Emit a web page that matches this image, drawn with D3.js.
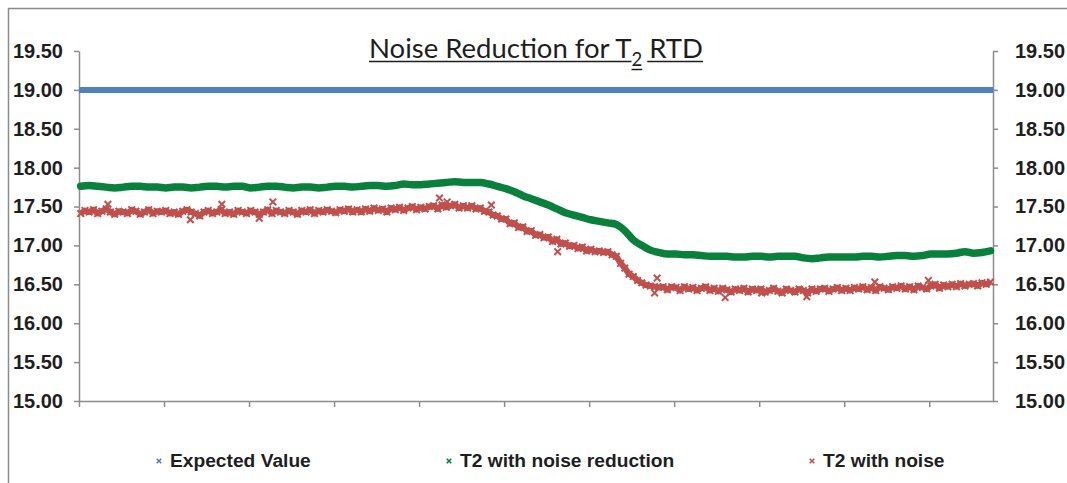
<!DOCTYPE html>
<html>
<head>
<meta charset="utf-8">
<script src="https://cdn.jsdelivr.net/npm/d3@7"></script>
<style>
    body { margin: 0; background: #fff; }
    svg text { font-family: "Liberation Sans", Arial, sans-serif; }
</style>
</head>
<body>
<div id="chart"></div>
<script>
// ---- data ----
const nCategories = 1075;
const yTicks = [15.0, 15.5, 16.0, 16.5, 17.0, 17.5, 18.0, 18.5, 19.0, 19.5];
const xTickIdx = [0, 100, 200, 300, 400, 500, 600, 700, 800, 900, 1000];

const expectedIdx = [0, 1075];
const expectedVals = [19.00, 19.00];

// T2 with noise reduction, one value every 10 samples
const greenStep = 10;
const greenVals = [
    17.76, 17.77, 17.76, 17.75, 17.74, 17.75, 17.76, 17.76, 17.75, 17.75,
    17.74, 17.75, 17.75, 17.74, 17.75, 17.76, 17.76, 17.75, 17.76, 17.76,
    17.74, 17.75, 17.76, 17.76, 17.75, 17.74, 17.75, 17.75, 17.74, 17.75,
    17.76, 17.76, 17.75, 17.76, 17.77, 17.77, 17.76, 17.77, 17.79, 17.78,
    17.78, 17.79, 17.80, 17.81, 17.82, 17.81, 17.81, 17.81, 17.79, 17.76,
    17.73, 17.69, 17.64, 17.60, 17.56, 17.52, 17.47, 17.42, 17.39, 17.36,
    17.33, 17.31, 17.29, 17.27, 17.19, 17.07, 17.00, 16.94, 16.91, 16.89,
    16.89, 16.88, 16.88, 16.87, 16.86, 16.86, 16.86, 16.85, 16.85, 16.86,
    16.86, 16.85, 16.86, 16.86, 16.86, 16.84, 16.83, 16.84, 16.85, 16.85,
    16.85, 16.85, 16.86, 16.86, 16.85, 16.86, 16.87, 16.87, 16.86, 16.87,
    16.89, 16.89, 16.89, 16.90, 16.92, 16.90, 16.91, 16.93
];

// T2 with noise, one value every 5 samples
const redStep = 5;
const redVals = [
    17.41, 17.45, 17.43, 17.46, 17.41, 17.44, 17.47, 17.43, 17.40, 17.44,
    17.43, 17.41, 17.46, 17.44, 17.40, 17.43, 17.46, 17.41, 17.44, 17.43,
    17.45, 17.41, 17.43, 17.40, 17.44, 17.46, 17.43, 17.41, 17.38, 17.43,
    17.45, 17.41, 17.43, 17.46, 17.41, 17.43, 17.40, 17.45, 17.43, 17.41,
    17.45, 17.43, 17.40, 17.43, 17.46, 17.41, 17.45, 17.43, 17.41, 17.45,
    17.43, 17.40, 17.45, 17.43, 17.46, 17.41, 17.45, 17.43, 17.46, 17.44,
    17.42, 17.46, 17.44, 17.47, 17.43, 17.46, 17.43, 17.47, 17.44, 17.48,
    17.45, 17.47, 17.43, 17.48, 17.46, 17.49, 17.45, 17.48, 17.50, 17.46,
    17.49, 17.47, 17.50, 17.51, 17.47, 17.52, 17.49, 17.51, 17.53, 17.48,
    17.51, 17.48, 17.51, 17.47, 17.48, 17.44, 17.43, 17.39, 17.38, 17.34,
    17.34, 17.28, 17.29, 17.23, 17.24, 17.18, 17.19, 17.13, 17.14, 17.10,
    17.11, 17.05, 17.08, 17.02, 17.03, 16.99, 17.00, 16.96, 16.98, 16.93,
    16.95, 16.92, 16.93, 16.91, 16.92, 16.88, 16.86, 16.77, 16.71, 16.63,
    16.60, 16.55, 16.52, 16.49, 16.48, 16.47, 16.46, 16.47, 16.43, 16.47,
    16.46, 16.42, 16.47, 16.44, 16.46, 16.42, 16.45, 16.47, 16.42, 16.45,
    16.41, 16.45, 16.43, 16.40, 16.44, 16.42, 16.45, 16.40, 16.44, 16.42,
    16.44, 16.40, 16.42, 16.45, 16.41, 16.39, 16.44, 16.42, 16.40, 16.44,
    16.42, 16.39, 16.44, 16.41, 16.44, 16.45, 16.41, 16.44, 16.46, 16.42,
    16.45, 16.42, 16.46, 16.44, 16.47, 16.43, 16.46, 16.42, 16.47, 16.45,
    16.43, 16.47, 16.45, 16.48, 16.44, 16.47, 16.43, 16.48, 16.46, 16.44,
    16.48, 16.50, 16.45, 16.49, 16.47, 16.50, 16.47, 16.51, 16.48, 16.50,
    16.51, 16.48, 16.52, 16.50, 16.53
];

// the odd noisy samples that stand out of the red band
const redOutlierIdx = [34, 131, 168, 212, 228, 424, 433, 485, 563, 680, 677, 760, 803, 856, 936, 999];
const redOutlierVals = [17.53, 17.33, 17.53, 17.35, 17.56, 17.61, 17.56, 17.52, 16.92, 16.58, 16.39, 16.33, 16.39, 16.34, 16.53, 16.55];

const seriesNames = ['Expected Value', 'T2 with noise reduction', 'T2 with noise'];
const seriesColors = ['#4f81bd', '#0a803d', '#c0504d'];

// ---- layout ----
const width = 1067, height = 483;
const plot = { left: 79, right: 993, top: 51, bottom: 401 };

const svg = d3.select('#chart').append('svg')
    .attr('width', width)
    .attr('height', height);

// chart area border
svg.append('rect')
    .attr('x', 8.5).attr('y', 8.5)
    .attr('width', 1200).attr('height', 600)
    .attr('fill', 'none')
    .attr('stroke', '#8c8c8c')
    .attr('stroke-width', 1.5);

const xScale = d3.scaleLinear()
    .domain([0, nCategories])
    .range([plot.left, plot.right]);

const yScale = d3.scaleLinear()
    .domain([15, 19.5])
    .range([plot.bottom, plot.top]);

const fmt = d3.format('.2f');

// axes
const yAxisL = d3.axisLeft(yScale).tickValues(yTicks).tickFormat(fmt)
    .tickSize(5).tickSizeOuter(0).tickPadding(11);
const yAxisR = d3.axisRight(yScale).tickValues(yTicks).tickFormat(fmt)
    .tickSize(5).tickSizeOuter(0).tickPadding(17);
const xAxis = d3.axisBottom(xScale).tickValues(xTickIdx).tickFormat('')
    .tickSize(6).tickSizeOuter(0);

const gL = svg.append('g').attr('transform', `translate(${plot.left},0)`).call(yAxisL);
const gR = svg.append('g').attr('transform', `translate(${plot.right},0)`).call(yAxisR);
const gX = svg.append('g').attr('transform', `translate(0,${plot.bottom})`).call(xAxis);

[gL, gR, gX].forEach(g => {
    g.selectAll('path, line').attr('stroke', '#8c8c8c').attr('stroke-width', 1.5);
    g.selectAll('text')
        .attr('font-size', 20)
        .attr('font-weight', 'bold')
        .attr('fill', '#1e1e1e');
});

// series
const chart = svg.append('g');

const line = d3.line()
    .x(d => xScale(d.i))
    .y(d => yScale(d.v));

const expectedData = expectedIdx.map((i, k) => ({ i: i, v: expectedVals[k] }));
const greenData = greenVals.map((v, k) => ({ i: k * greenStep + 2, v: v }));
const redData = redVals.map((v, k) => ({ i: k * redStep + 2, v: v }));
const outlierData = redOutlierIdx.map((i, k) => ({ i: i, v: redOutlierVals[k] }));

chart.append('path')
    .datum(expectedData)
    .attr('d', line)
    .attr('fill', 'none')
    .attr('stroke', seriesColors[0])
    .attr('stroke-width', 6);

chart.append('path')
    .datum(greenData)
    .attr('d', line.curve(d3.curveMonotoneX))
    .attr('fill', 'none')
    .attr('stroke', seriesColors[1])
    .attr('stroke-width', 7.5)
    .attr('stroke-linecap', 'round')
    .attr('stroke-linejoin', 'round');

line.curve(d3.curveLinear);
chart.append('path')
    .datum(redData)
    .attr('d', line)
    .attr('fill', 'none')
    .attr('stroke', seriesColors[2])
    .attr('stroke-width', 6)
    .attr('stroke-linejoin', 'round');

const cross = s => `M${-s},${-s}L${s},${s}M${-s},${s}L${s},${-s}`;

chart.selectAll('.red-mark')
    .data(redData.concat(outlierData))
    .join('path')
    .attr('class', 'red-mark')
    .attr('transform', d => `translate(${xScale(d.i)},${yScale(d.v)})`)
    .attr('d', cross(3.3))
    .attr('stroke', seriesColors[2])
    .attr('stroke-width', 2);

// title, with subscript and underline
const title = svg.append('g');
const titleParts = [
    { t: 'Noise Reduction for T', size: 27.5, dy: 0 },
    { t: '2', size: 18.5, dy: 8 },
    { t: '\u00a0RTD', size: 27.5, dy: 0 }
];
let tx = 0;
titleParts.forEach(p => {
    const el = title.append('text')
        .attr('x', tx).attr('y', 58 + p.dy)
        .attr('font-size', p.size)
        .attr('fill', '#1e1e1e')
        .style('font-family', 'Lato, "Open Sans", sans-serif')
        .text(p.t);
    const w = el.node().getComputedTextLength();
    title.append('line')
        .attr('x1', tx + (p.t.startsWith('\u00a0') ? 5 : 0)).attr('x2', tx + w)
        .attr('y1', 61.5 + p.dy).attr('y2', 61.5 + p.dy)
        .attr('stroke', '#1e1e1e').attr('stroke-width', 1.5);
    tx += w;
});
title.attr('transform', `translate(${536 - tx / 2},0)`);

// legend
const legendX = [159, 449, 812];
seriesNames.forEach((name, k) => {
    svg.append('path')
        .attr('transform', `translate(${legendX[k]},${461})`)
        .attr('d', cross(2.3))
        .attr('stroke', seriesColors[k])
        .attr('stroke-width', 1.6);
    svg.append('text')
        .attr('x', legendX[k] + 11).attr('y', 467)
        .attr('font-size', 19.2)
        .attr('font-weight', 'bold')
        .attr('fill', '#1e1e1e')
        .text(name);
});
</script>
</body>
</html>
